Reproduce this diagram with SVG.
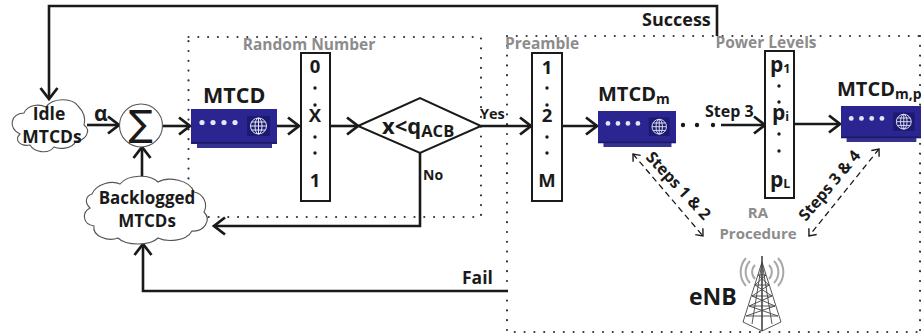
<svg xmlns="http://www.w3.org/2000/svg" width="921" height="336" viewBox="0 0 921 336">
<style>
text{font-family:"Open Sans","Noto Sans","Liberation Sans",sans-serif;font-weight:700;fill:#1a1a1a}
.c{text-anchor:middle}
.g{fill:#8c8c8c}
.dot{fill:none;stroke:#333;stroke-width:2.2;stroke-linecap:round;stroke-dasharray:0 9.8}
.w{fill:none;stroke:#1a1a1a;stroke-width:2.6}
.a{marker-end:url(#arr)}
.d{fill:none;stroke:#1a1a1a;stroke-width:1.3;stroke-dasharray:6 4;marker-start:url(#sm);marker-end:url(#sm)}
.box{fill:#fff;stroke:#1a1a1a;stroke-width:2}
.cloud{fill:#fff;stroke:#555;stroke-width:1.1}
.t{stroke:#444;stroke-width:.9;fill:none}
.rad{fill:none;stroke:#a8a8a8;stroke-width:2}
.pt{fill:#1a1a1a}
</style>
<defs>
<marker id="arr" markerUnits="userSpaceOnUse" markerWidth="18" markerHeight="22" refX="15" refY="11" orient="auto"><path d="M4 2.5L15 11L4 19.5" fill="none" stroke="#1a1a1a" stroke-width="2.8"/></marker>
<marker id="sm" markerUnits="userSpaceOnUse" markerWidth="12" markerHeight="12" refX="9" refY="6" orient="auto-start-reverse"><path d="M3 1L9 6L3 11" fill="none" stroke="#1a1a1a" stroke-width="1.4"/></marker>
<symbol id="dev" viewBox="0 0 86 39" preserveAspectRatio="none">
<rect x="6" y="33" width="75" height="6" fill="#34328f"/>
<rect x="0" y="0" width="86" height="35" fill="#2a2590"/>
<rect x="0" y="33" width="86" height="1.5" fill="#1d1a60"/>
<circle cx="11" cy="13.500" r="2.600" fill="#e6e6f5"/><circle cx="22" cy="13.500" r="2.600" fill="#e6e6f5"/><circle cx="33" cy="13.500" r="2.600" fill="#e6e6f5"/><circle cx="44" cy="13.500" r="2.600" fill="#e6e6f5"/>
<rect x="56" y="7" width="23" height="20" fill="#1c1a70"/>
<g fill="none" stroke="#e6e6f5" stroke-width="1"><circle cx="67.500" cy="17" r="8"/><ellipse cx="67.500" cy="17" rx="3.500" ry="8"/><path d="M59.500 17H75.500M60.500 13H74.500M60.500 21H74.500M67.500 9V25"/></g>
</symbol>
</defs>
<rect width="921" height="336" fill="#fff"/>

<g id="regions">
<rect class="dot" x="188.500" y="37" width="292.500" height="180"/>
<path class="dot" d="M507 36V332H921M507 36H921M920 36V332"/>
</g>

<g id="connectors">
<path class="w a" d="M717 36V6H49V99"/>
<path class="w a" d="M87 125H119"/>
<path class="w a" d="M163 126H190"/>
<path class="w a" d="M142 177V147"/>
<path class="w a" d="M277 126H299"/>
<path class="w a" d="M330 126H358"/>
<path class="w a" d="M481 126H531"/>
<path class="w a" d="M562 126H597"/>
<path class="w a" d="M420 153V226H214"/>
<path class="w a" d="M508 291H143V244"/>
<path class="w a" d="M721 125H765"/>
<path class="w a" d="M794 124H840"/>
<path class="d" d="M633 154L703 236"/>
<path class="d" d="M879 149L809 236"/>
<circle cx="683" cy="125" r="2.200" fill="#1a1a1a"/><circle cx="697" cy="125" r="2.200" fill="#1a1a1a"/><circle cx="713" cy="125" r="2.200" fill="#1a1a1a"/>
</g>

<g id="idle">
<path class="cloud" d="M24 113C28 104 40 104 46 107C52 98 72 97 78 106C84 112 86 118 84 125C92 131 85 141 76 141C72 150 58 149 54 147C48 155 34 152 30 145C20 147 14 140 20 134C8 128 10 114 24 113Z"/>
<text class="c" x="49" y="120" font-size="17.500">Idle</text>
<text class="c" x="52" y="143" font-size="17.500">MTCDs</text>
</g>
<g id="sum">
<circle cx="141" cy="125.500" r="21.500" fill="#fff" stroke="#555" stroke-width="1.100"/>
<text class="c" x="141" y="136" font-size="36" style="font-family:'DejaVu Sans',sans-serif;font-weight:400">∑</text>
</g>
<g id="backlogged">
<path class="cloud" d="M92 194C96 184 112 180 120 184C128 174 150 174 158 182C168 176 190 180 194 192C204 194 208 204 204 212C212 220 204 232 192 231C186 242 166 242 158 238C150 246 126 246 118 238C108 242 92 236 94 226C82 224 82 212 90 208C84 202 86 196 92 194Z"/>
<text class="c" x="147" y="204" font-size="17">Backlogged</text>
<text class="c" x="147" y="227" font-size="17">MTCDs</text>
</g>

<g id="mtcd">
<text x="203" y="103" font-size="21.500">MTCD</text>
<use href="#dev" x="191" y="109" width="86" height="39"/>
</g>
<g id="random">
<text class="c g" x="309" y="50" font-size="15.500">Random Number</text>
<rect class="box" x="301" y="53" width="29" height="148"/>
<text class="c" x="315" y="73" font-size="18.500">0</text>
<text class="c" x="315" y="122" font-size="18.500">X</text>
<text class="c" x="315" y="187" font-size="18.500">1</text>
<circle class="pt" cx="315" cy="88" r="1.700"/><circle class="pt" cx="315" cy="105" r="1.700"/><circle class="pt" cx="315" cy="137" r="1.700"/><circle class="pt" cx="315" cy="153" r="1.700"/>
</g>
<g id="decision">
<path d="M358 126L420 98L481 126L420 153Z" fill="#fff" stroke="#1a1a1a" stroke-width="2"/>
<text x="382" y="134" font-size="22">x&lt;q<tspan font-size="16.500" dy="3">ACB</tspan></text>
<text x="480" y="119" font-size="14.500">Yes</text>
<text x="423" y="180" font-size="14">No</text>
</g>
<g id="preamble">
<text class="g" x="505" y="49" font-size="15.500">Preamble</text>
<rect class="box" x="532" y="53" width="30" height="148"/>
<text class="c" x="547" y="74" font-size="18.500">1</text>
<text class="c" x="547" y="122" font-size="18.500">2</text>
<text class="c" x="547" y="187" font-size="18.500">M</text>
<circle class="pt" cx="547" cy="88" r="1.700"/><circle class="pt" cx="547" cy="105" r="1.700"/><circle class="pt" cx="547" cy="137" r="1.700"/><circle class="pt" cx="547" cy="153" r="1.700"/>
</g>
<g id="mtcdm">
<text x="598" y="101" font-size="20">MTCD<tspan font-size="14" dy="3">m</tspan></text>
<use href="#dev" x="598" y="111" width="78" height="36"/>
<text x="705" y="117" font-size="16">Step 3</text>
</g>
<g id="power">
<text class="c g" x="766" y="48" font-size="15.500">Power Levels</text>
<rect class="box" x="765" y="51" width="29" height="147"/>
<text x="770" y="72" font-size="21">p<tspan font-size="12.500" dy="1">1</tspan></text>
<text x="772" y="120" font-size="21">p<tspan font-size="12.500" dy="1">i</tspan></text>
<text x="770" y="187" font-size="21">p<tspan font-size="12.500" dy="1">L</tspan></text>
<circle class="pt" cx="779" cy="86" r="1.700"/><circle class="pt" cx="779" cy="102" r="1.700"/><circle class="pt" cx="779" cy="134" r="1.700"/><circle class="pt" cx="779" cy="151" r="1.700"/>
</g>
<g id="mtcdmp">
<text x="837" y="96" font-size="20">MTCD<tspan font-size="14" dy="3">m,p</tspan></text>
<use href="#dev" x="841" y="106" width="80" height="36"/>
</g>
<g id="ra">
<text class="c g" x="758" y="218" font-size="15">RA</text>
<text class="c g" x="758" y="239" font-size="15">Procedure</text>
<text x="0" y="0" font-size="16" transform="translate(645 158) rotate(47)">Steps 1 &amp; 2</text>
<text x="0" y="0" font-size="16" transform="translate(806 222) rotate(-50)">Steps 3 &amp; 4</text>
</g>
<g id="enb">
<text x="689" y="305" font-size="23">eNB</text>
<path class="rad" d="M755 265A10 10 0 0 0 755 279M750 261A16 16 0 0 0 750 283M746 258A21 21 0 0 0 746 286M769 265A10 10 0 0 1 769 279M774 261A16 16 0 0 1 774 283M778 258A21 21 0 0 1 778 286"/>
<path class="t" style="stroke-width:1.600" d="M762 256V331"/>
<path class="t" d="M762 262L743 322M762 262L781 322M762 262L752 324M762 262L772 324M743 322L762 331L781 322M758 275H766M755 285H769M752 296H772M749 306H775M746 316H778M758 275L769 285M766 275L755 285M755 285L772 296M769 285L752 296M752 296L775 306M772 296L749 306M749 306L778 316M775 306L746 316"/>
</g>
<text x="642" y="26" font-size="18">Success</text>
<text x="462" y="284" font-size="17.500">Fail</text>
<text x="94" y="121" font-size="21">α</text>
</svg>
